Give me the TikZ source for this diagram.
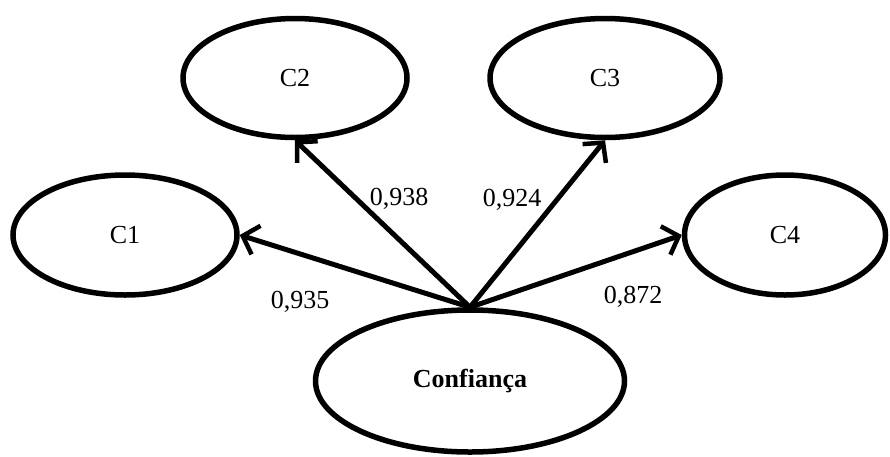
\documentclass[tikz,border=0pt]{standalone}
\usepackage{fontspec}
\setmainfont{Liberation Serif}
\usetikzlibrary{shapes.geometric,arrows.meta}
\begin{document}
\begin{tikzpicture}[x=1pt,y=-1pt,
  construct/.style={draw=black, line width=5.5pt, ellipse, inner sep=0pt,
    font=\fontsize{26}{31}\selectfont},
  loading/.style={line width=5pt, -{Straight Barb[length=14pt,width=30pt,line width=4.5pt]}},
  coef/.style={font=\fontsize{26}{31}\selectfont, inner sep=0pt}]
  \useasboundingbox (0,0) rectangle (890,456);
  \clip (0,0) rectangle (890,456);
  % latent constructs
  \node[construct, minimum width=224pt, minimum height=120pt] (c1) at (125,235) {C1};
  \node[construct, minimum width=224pt, minimum height=119pt] (c2) at (295,78) {C2};
  \node[construct, minimum width=230pt, minimum height=119pt] (c3) at (605,78) {C3};
  \node[construct, minimum width=201pt, minimum height=120pt] (c4) at (785,235) {C4};
  \node[construct, minimum width=309pt, minimum height=142pt] (conf) at (470,381) {\textbf{Confiança}};
  % loadings
  \draw[loading] (conf.north) -- (c1.east);
  \draw[loading] (conf.north) -- (c2.south);
  \draw[loading] (conf.north) -- (c3.south);
  \draw[loading] (conf.north) -- (c4.west);
  % coefficients
  \node[coef] (l1) at (300,302) {0,935};
  \node[coef] (l2) at (399,199) {0,938};
  \node[coef] (l3) at (512,200) {0,924};
  \node[coef] (l4) at (633,297) {0,872};
\end{tikzpicture}
\end{document}
